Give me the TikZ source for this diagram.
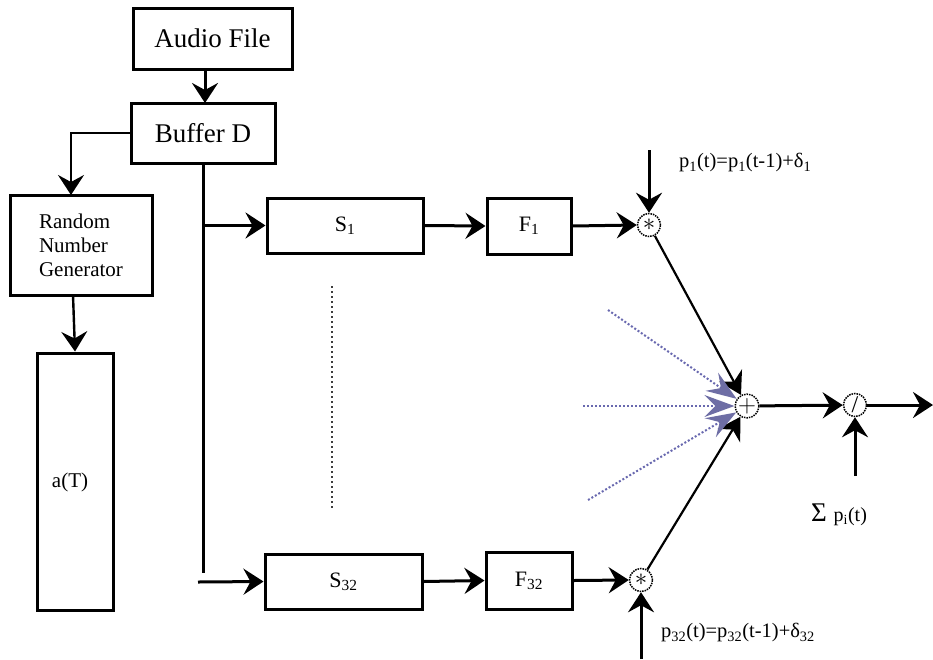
\documentclass[tikz,border=0pt]{standalone}
\usepackage{fontspec}
\setmainfont{Liberation Serif}
\usetikzlibrary{arrows.meta,calc}
\definecolor{dotblue}{RGB}{105,105,175}
\definecolor{arrblue}{RGB}{110,110,165}
\definecolor{dotgray}{RGB}{60,60,60}
\begin{document}
\begin{tikzpicture}[x=1pt,y=-1pt,
 box/.style={draw, line width=3pt, inner sep=0pt},
 arr/.style={line width=3pt, -{Stealth[length=20pt,width=26pt,inset=7pt]}},
 thinarr/.style={line width=2.4pt, -{Stealth[length=20pt,width=26pt,inset=7pt]}},
 op/.style={circle, draw, densely dotted, line width=1.5pt, minimum size=23pt, inner sep=0pt},
 bluearr/.style={draw=dotblue, dotted, line width=2pt, -{Stealth[length=30pt,width=22pt,inset=11pt,color=arrblue]}},
 lbl/.style={inner sep=0pt, font=\fontsize{20.5}{22}\selectfont}
]
\useasboundingbox (0,0) rectangle (933,659);

% boxes
\node[box, minimum width=159pt, minimum height=61pt, font=\fontsize{27}{30}\selectfont] (audio) at (212.5,38.5) {Audio File};
\node[box, minimum width=144pt, minimum height=60pt, font=\fontsize{27}{30}\selectfont] (buf) at (203,133) {Buffer D};
\node[box, minimum width=142pt, minimum height=100pt, align=left, font=\fontsize{21}{24}\selectfont] (rng) at (81,245) {Random\\Number\\Generator};
\node[box, minimum width=76pt, minimum height=257pt] (aT) at (75,481.5) {};
\node[inner sep=0pt, font=\fontsize{21}{24}\selectfont] (aTlbl) at (70,482) {a(T)};

\node[box, minimum width=156pt, minimum height=55pt, font=\fontsize{22}{24}\selectfont] (s1) at (345,225.5) {S\textsubscript{1}};
\node[box, minimum width=84pt, minimum height=56pt, font=\fontsize{22}{24}\selectfont] (f1) at (529,226) {F\textsubscript{1}};
\node[box, minimum width=157pt, minimum height=55pt, font=\fontsize{22}{24}\selectfont] (s32) at (343.5,581.5) {S\textsubscript{32}};
\node[box, minimum width=86pt, minimum height=57pt, font=\fontsize{22}{24}\selectfont] (f32) at (529,580.5) {F\textsubscript{32}};

% operators
\node[op, font=\fontsize{26}{26}\selectfont] (m1) at (649,225) {$\ast$};
\node[op, font=\fontsize{26}{26}\selectfont] (m32) at (641,580) {$\ast$};
\node[op, font=\fontsize{26}{26}\selectfont] (plus) at (747,406) {$+$};
\node[op, font=\fontsize{24}{24}\selectfont] (div) at (855,405) {/};

% labels
\node[lbl, anchor=west] (l1) at (679,163) {p\textsubscript{1}(t)=p\textsubscript{1}(t-1)+δ\textsubscript{1}};
\node[lbl, anchor=west] (l32) at (661,633) {p\textsubscript{32}(t)=p\textsubscript{32}(t-1)+δ\textsubscript{32}};
\node[inner sep=0pt, anchor=west] (lsum) at (811,515) {\fontsize{27}{28}\selectfont Σ \fontsize{20}{22}\selectfont p\textsubscript{i}(t)};

% coordinates
\coordinate (m1in) at (649,150);
\coordinate (m32in) at (641,659);
\coordinate (divin) at (855,476);
\coordinate (out) at (933,405);
\coordinate (vend) at (203,573);
\coordinate (b32) at (198,582);
\coordinate (d1) at (608,310);
\coordinate (d2) at (583,406);
\coordinate (d3) at (588,500);
\coordinate (dv1) at (332,286);
\coordinate (dv2) at (332,510);

% connectors
\draw[arr] (audio.south -| 205,0) -- (205,103);
\draw[thinarr] (buf.west) -| (71,195);
\draw[thinarr] (73,295) -- (aT.north);
\draw[line width=3pt] (buf.south) -- (vend);
\draw[arr] (buf.south |- s1.west) -- (s1.west);
\draw[arr] (b32) -- (s32.west);
\draw[arr] (s1.east) -- (f1.west);
\draw[arr] (s32.east) -- (f32.west);
\draw[arr] (f1.east) -- (m1.west);
\draw[arr] (f32.east) -- (m32.west);
\draw[arr] (m1in) -- (m1.north);
\draw[arr] (m32in) -- (m32.south);
\draw[line width=2.2pt, -{Stealth[length=22pt,width=26pt,inset=7pt]}] (m1) -- (plus);
\draw[line width=2.2pt, -{Stealth[length=22pt,width=26pt,inset=7pt]}] (m32) -- (plus);
\draw[bluearr] (d1) -- (plus);
\draw[bluearr] (d2) -- (plus);
\draw[bluearr] (d3) -- (plus);
\draw[arr] (plus) -- (div);
\draw[arr] (div) -- (out);
\draw[arr] (divin) -- (div.south);
\draw[dotgray, line width=2.2pt, dash pattern=on 2pt off 3pt] (dv1) -- (dv2);
\end{tikzpicture}
\end{document}
